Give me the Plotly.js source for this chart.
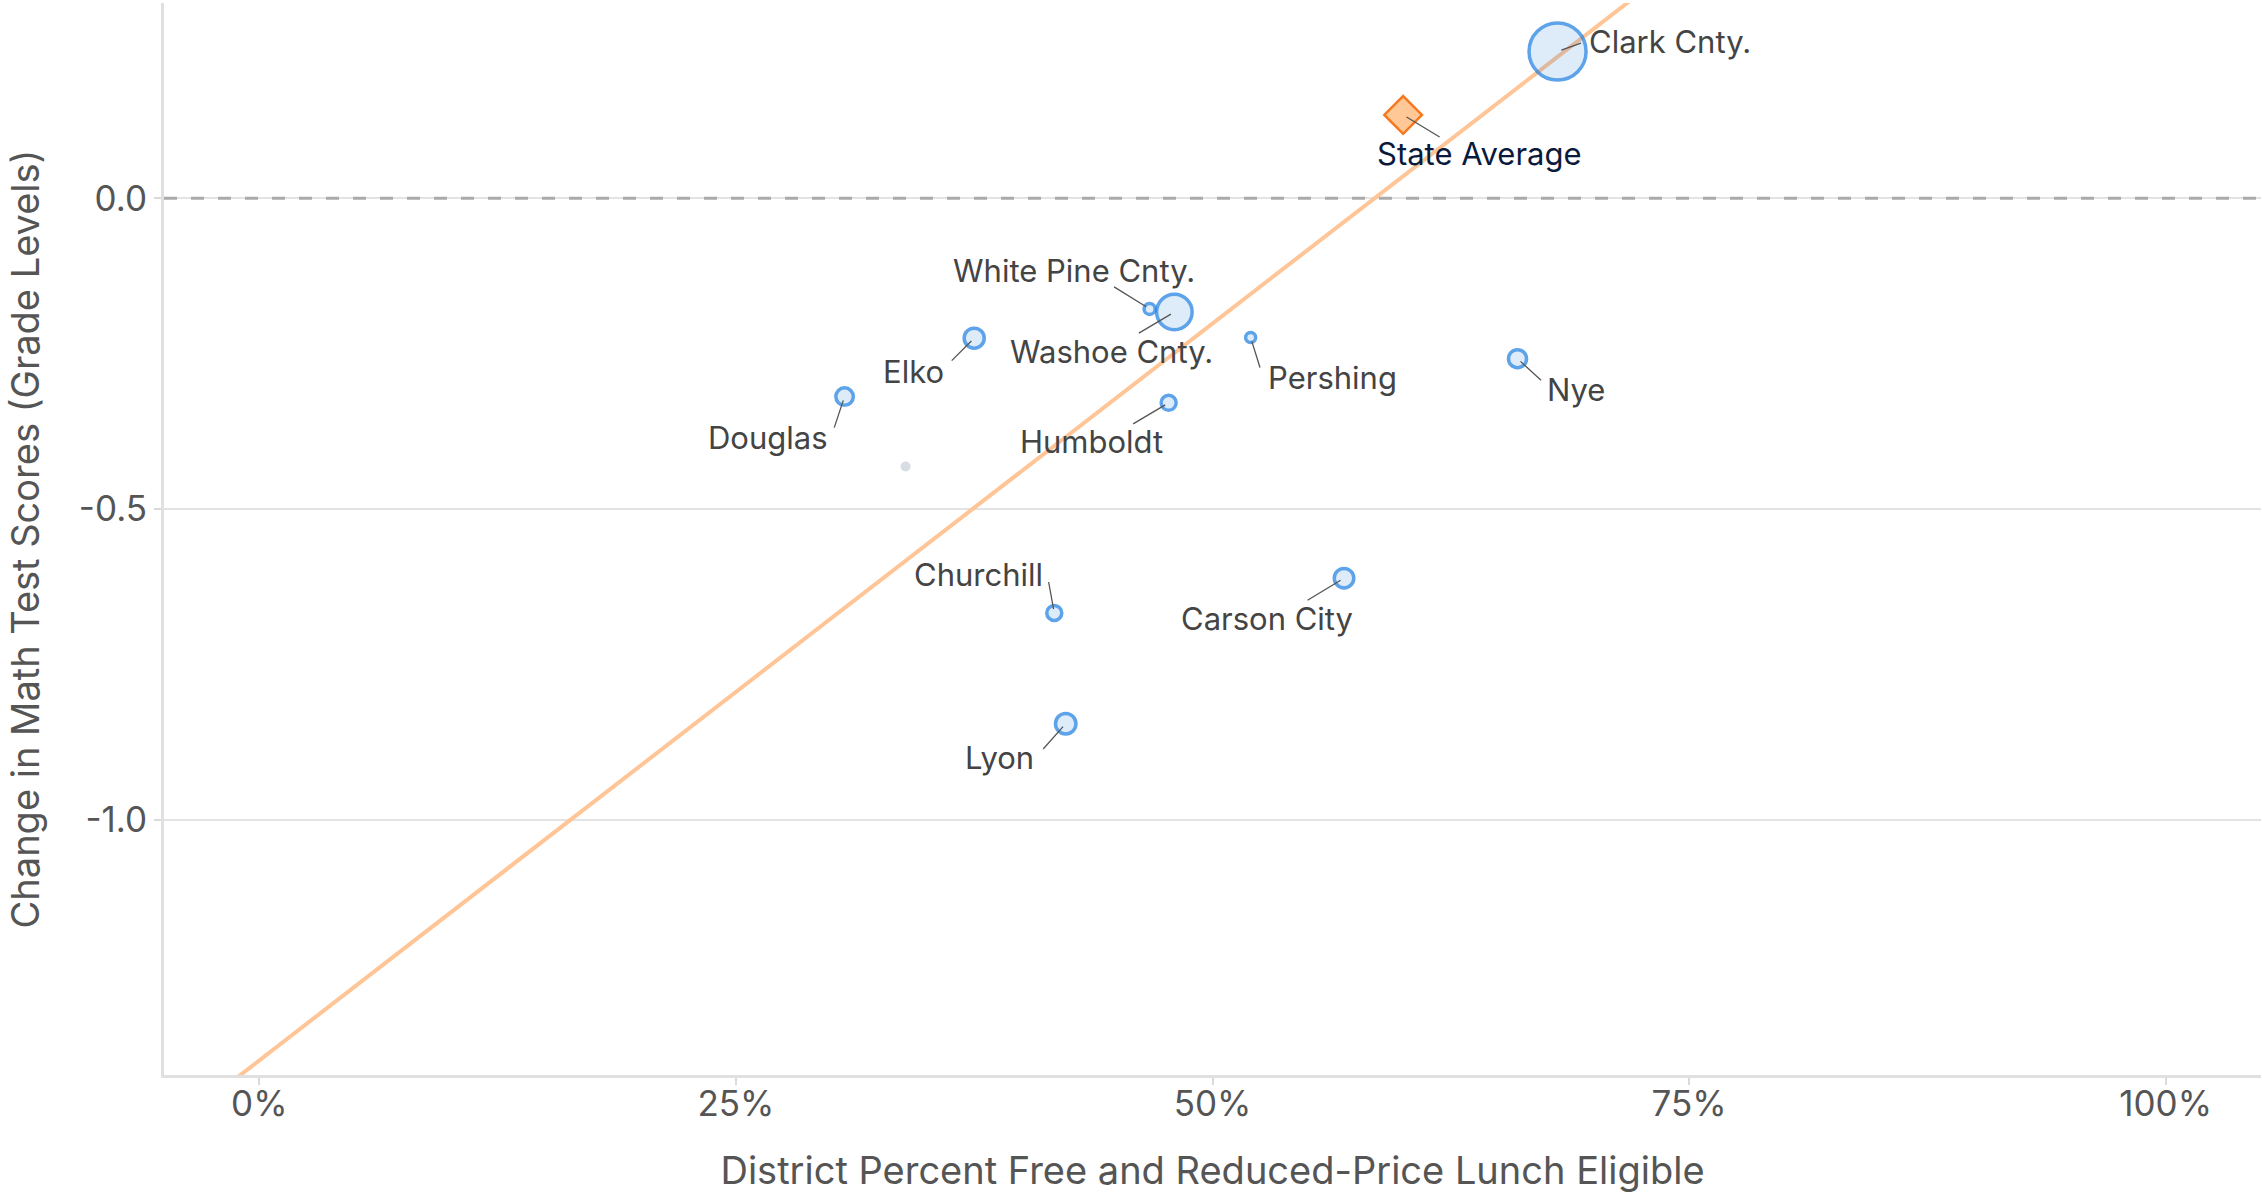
<!DOCTYPE html>
<html>
<head>
<meta charset="utf-8">
<script src="https://cdn.plot.ly/plotly-3.0.1.min.js"></script>
<style>
html,body{margin:0;padding:0;background:#fff;}
#chart{width:2262px;height:1195px;}
</style>
</head>
<body>
<div id="chart"></div>
<script>
// ---- data ----
const districts = ["Clark Cnty.", "Washoe Cnty.", "White Pine Cnty.", "Elko", "Douglas", "Pershing", "Humboldt", "Nye", "Churchill", "Carson City", "Lyon"];
const frlShare  = [0.681, 0.480, 0.467, 0.375, 0.307, 0.520, 0.477, 0.660, 0.417, 0.569, 0.423];
const mathChange = [0.236, -0.183, -0.178, -0.225, -0.319, -0.224, -0.329, -0.258, -0.667, -0.611, -0.845];
const enrollmentBubble = [57, 35.5, 11, 20, 17.5, 10, 15, 18, 15, 19.5, 20.5];

const stateName = ["State Average"];
const stateFrl = [0.600];
const stateChange = [0.134];

const otherFrl = [0.339];
const otherChange = [-0.4315];

const trendX = [-0.05, 0.75];
const trendY = [-1.505, 0.391];

const xTickVals = [0, 0.25, 0.5, 0.75, 1];
const xTickText = ["0%", "25%", "50%", "75%", "100%"];
const yTickVals = [-1.0, -0.5, 0.0];
const yTickText = ["-1.0", "-0.5", "0.0"];

// ---- label placement (pixel offsets from the point) ----
// text centre offsets [dx, dy] (screen px, dy downward)
const labelOffsets = [
  [112, -10], [-63, 39], [-76, -38], [-61, 33], [-77, 41], [82, 40],
  [-77, 39], [58, 31], [-76, -39], [-77, 40], [-66, 34]
];
// connector end offsets [dx, dy]
const connectorEnds = [
  [25, -9], [-37, 22], [-37, -23], [-24, 24], [-11, 33], [10, 32],
  [-37, 22], [25, 23], [-6, -33], [-38, 23], [-24, 27]
];
const stateLabelOffset = [76, 39];
const stateConnectorEnd = [38, 23];

const FONT = "Inter, 'Open Sans', sans-serif";

const traces = [
  {
    x: trendX, y: trendY, type: "scatter", mode: "lines",
    line: {color: "#ffc596", width: 4}, hoverinfo: "skip", showlegend: false
  },
  {
    x: otherFrl, y: otherChange, type: "scatter", mode: "markers",
    marker: {size: 10, color: "#d8dce3", line: {width: 0}}, showlegend: false
  },
  {
    x: frlShare, y: mathChange, text: districts, type: "scatter", mode: "markers",
    marker: {size: enrollmentBubble, color: "rgba(25,118,220,0.2)", line: {color: "#1a7de0", width: 3.5}},
    showlegend: false
  },
  {
    x: stateFrl, y: stateChange, text: stateName, type: "scatter", mode: "markers",
    marker: {symbol: "diamond", size: 29, color: "#ffc896", line: {color: "#f5781e", width: 2.5}},
    showlegend: false
  }
];

function connector(x, y, end) {
  return {
    x: x, y: y, xref: "x", yref: "y", text: " ", font: {size: 1},
    showarrow: true, arrowhead: 0, arrowwidth: 1.3, arrowcolor: "#555555",
    ax: end[0], ay: end[1], standoff: 4
  };
}
function label(x, y, txt, off, color) {
  return {
    x: x, y: y, xref: "x", yref: "y", text: txt, showarrow: false,
    xanchor: "center", yanchor: "middle", xshift: off[0], yshift: -off[1],
    font: {family: FONT, size: 31, color: color}
  };
}

const annotations = [];
districts.forEach((d, i) => {
  annotations.push(connector(frlShare[i], mathChange[i], connectorEnds[i]));
  annotations.push(label(frlShare[i], mathChange[i], d, labelOffsets[i], "#444444"));
});
annotations.push(connector(stateFrl[0], stateChange[0], stateConnectorEnd));
annotations.push(label(stateFrl[0], stateChange[0], stateName[0], stateLabelOffset, "#0b1a3c"));

const layout = {
  width: 2262, height: 1195,
  margin: {l: 164, r: 1, t: 3, b: 120},
  paper_bgcolor: "#ffffff", plot_bgcolor: "#ffffff",
  font: {family: FONT, size: 34, color: "#555555"},
  showlegend: false,
  xaxis: {
    range: [-0.05, 1.05], tickvals: xTickVals, ticktext: xTickText,
    showgrid: false, zeroline: false,
    showline: true, linecolor: "#e0e0e0", linewidth: 3,
    ticks: "outside", ticklen: 7, tickwidth: 2, tickcolor: "#dadada",
    ticklabelstandoff: -11,
    tickfont: {family: FONT, size: 35, color: "#555555"},
    title: {text: "District Percent Free and Reduced-Price Lunch Eligible", font: {family: FONT, size: 38, color: "#555555"}, standoff: 35},
    automargin: false
  },
  yaxis: {
    range: [-1.41, 0.314], tickvals: yTickVals, ticktext: yTickText,
    showgrid: true, gridcolor: "#e3e3e3", gridwidth: 2, zeroline: false,
    showline: true, linecolor: "#e0e0e0", linewidth: 3,
    ticks: "outside", ticklen: 7, tickwidth: 2, tickcolor: "#dadada",
    tickfont: {family: FONT, size: 35, color: "#555555"},
    title: {text: "Change in Math Test Scores (Grade Levels)", font: {family: FONT, size: 38, color: "#555555"}, standoff: 28},
    automargin: false
  },
  shapes: [{
    type: "line", xref: "paper", x0: 0, x1: 1, yref: "y", y0: 0, y1: 0,
    line: {color: "#aaaaaa", width: 3, dash: "13px,14px"}, layer: "above"
  }],
  annotations: annotations
};

Plotly.newPlot("chart", traces, layout, {displayModeBar: false, staticPlot: true});
</script>
</body>
</html>
